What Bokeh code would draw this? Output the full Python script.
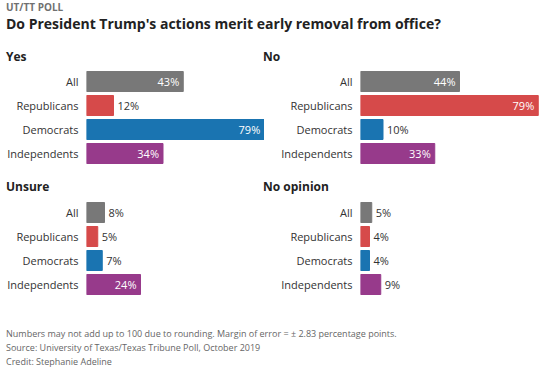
from bokeh.plotting import figure
from bokeh.models import FactorRange, Range1d, Div, ColumnDataSource
from bokeh.layouts import column, row
from bokeh.embed import file_html
from bokeh.resources import INLINE
from bokeh.core.properties import value

# ---- data ----
groups = ["All", "Republicans", "Democrats", "Independents"]
group_colors = ["#787878", "#d64a4a", "#1a74b1", "#973a8b"]
panel_titles = ["Yes", "No", "Unsure", "No opinion"]
yes_vals = [43, 12, 79, 34]
no_vals = [44, 79, 10, 33]
unsure_vals = [8, 5, 7, 24]
noop_vals = [5, 4, 4, 9]

kicker = "UT/TT POLL"
headline = "Do President Trump's actions merit early removal from office?"
notes = [
    "Numbers may not add up to 100 due to rounding. Margin of error = \u00b1 2.83 percentage points.",
    "Source: University of Texas/Texas Tribune Poll, October 2019",
    "Credit: Stephanie Adeline",
]

FONT = "Open Sans"
PX_PER_PCT = 2.25
INSIDE_MIN = 20


def panel(vals, col_width, left_border):
    frame_w = col_width - left_border
    p = figure(
        width=col_width, height=96,
        y_range=FactorRange(factors=list(reversed(groups)), range_padding=0),
        x_range=Range1d(0, frame_w / PX_PER_PCT),
        x_axis_location=None,
        toolbar_location=None, output_backend="svg",
        min_border_left=left_border, min_border_right=0,
        min_border_top=0, min_border_bottom=0,
    )
    p.outline_line_color = None
    p.grid.visible = False
    p.background_fill_color = "white"
    p.border_fill_color = "white"
    ax = p.yaxis[0]
    ax.axis_line_color = None
    ax.major_tick_line_color = None
    ax.minor_tick_line_color = None
    ax.major_tick_out = 0
    ax.major_tick_in = 0
    ax.minor_tick_out = 0
    ax.major_label_standoff = 8
    ax.major_label_text_font = FONT
    ax.major_label_text_font_size = "11px"
    ax.major_label_text_color = "#333333"

    labels = [f"{v}%" for v in vals]
    src = ColumnDataSource(dict(g=groups, v=vals, c=group_colors, t=labels))
    p.hbar(y="g", left=0, right="v", height=20 / 24, color="c", source=src)

    inside = [v >= INSIDE_MIN for v in vals]
    src_in = ColumnDataSource(dict(
        g=[g for g, i in zip(groups, inside) if i],
        v=[v for v, i in zip(vals, inside) if i],
        t=[t for t, i in zip(labels, inside) if i]))
    src_out = ColumnDataSource(dict(
        g=[g for g, i in zip(groups, inside) if not i],
        v=[v for v, i in zip(vals, inside) if not i],
        t=[t for t, i in zip(labels, inside) if not i]))
    p.text(x="v", y="g", text="t", source=src_in, text_align="right",
           text_baseline="middle", x_offset=-4, text_color="white",
           text_font=value(FONT), text_font_size="11px")
    p.text(x="v", y="g", text="t", source=src_out, text_align="left",
           text_baseline="middle", x_offset=4, text_color="#333333",
           text_font=value(FONT), text_font_size="11px")
    return p


def header(text, width, height, pad_top, left):
    html = (f'<div style="position:relative;left:{left}px;top:{pad_top}px;'
            f'font-family:\'{FONT}\';font-size:12px;font-weight:bold;color:#222;'
            f'line-height:16px;white-space:nowrap;">{text}</div>')
    return Div(text=html, width=width, height=height, margin=0)


W1, W2 = 264, 292
top = Div(text=(
    f'<div style="position:relative;top:0px;left:6px;font-family:\'{FONT}\';white-space:nowrap;">'
    f'<div style="font-size:10px;font-weight:bold;color:#707070;line-height:14px;">{kicker}</div>'
    f'<div style="font-size:14px;font-weight:bold;color:#222;line-height:18px;margin-top:1px;">{headline}</div>'
    f'</div>'), width=556, height=44, margin=0)

p_yes = panel(yes_vals, W1, 86)
p_no = panel(no_vals, W2, 96)
p_uns = panel(unsure_vals, W1, 86)
p_nop = panel(noop_vals, W2, 96)

row1 = row(column(header(panel_titles[0], W1, 25, 5, 6), p_yes, spacing=0),
           column(header(panel_titles[1], W2, 25, 5, -1), p_no, spacing=0), spacing=0)
row2 = row(column(header(panel_titles[2], W1, 35, 14, 6), p_uns, spacing=0),
           column(header(panel_titles[3], W2, 35, 14, -1), p_nop, spacing=0), spacing=0)

foot = Div(text=(
    f'<div style="position:relative;top:31px;left:6px;font-family:\'{FONT}\';font-size:9px;'
    f'color:#666;line-height:13.8px;white-space:nowrap;">' + "<br>".join(notes) + '</div>'),
    width=556, height=80, margin=0)

layout = column(top, row1, row2, foot, spacing=0)

open("out.html", "w").write(file_html(layout, INLINE))
